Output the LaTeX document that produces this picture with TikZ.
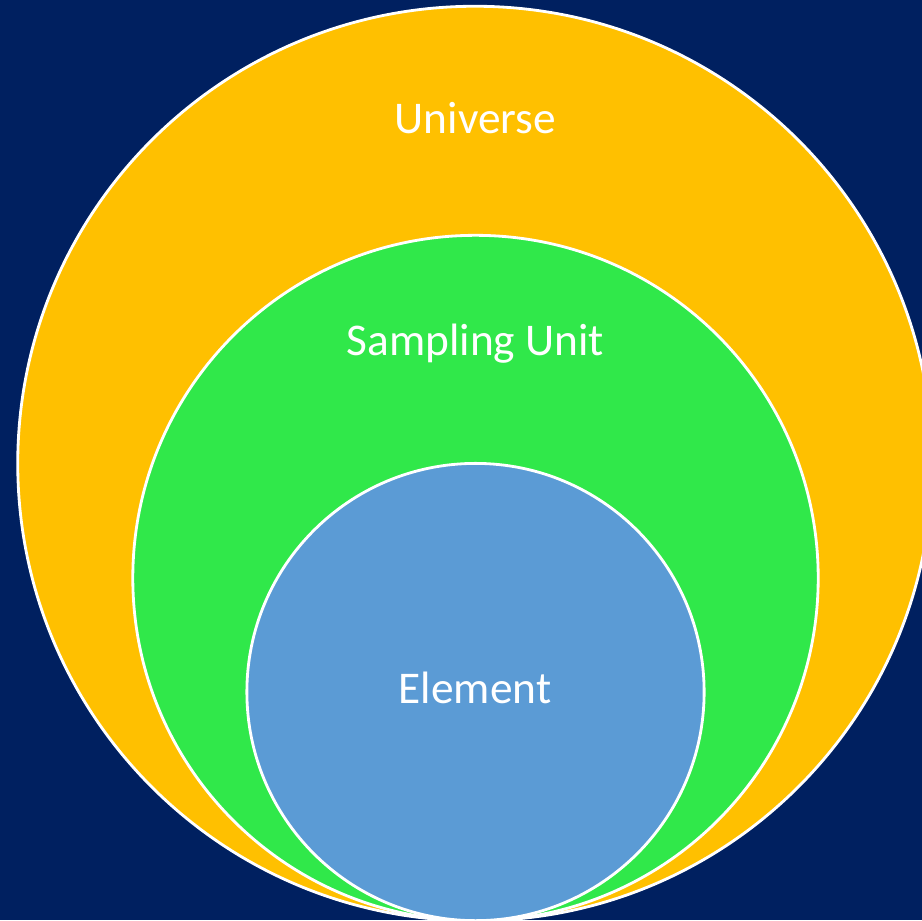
\documentclass[tikz,border=0pt]{standalone}
\usepackage{fontspec}
\setmainfont{Carlito}
\usepackage{tikz}
\definecolor{navy}{HTML}{002060}
\definecolor{gold}{HTML}{FFC000}
\definecolor{lime}{HTML}{30E84A}
\definecolor{steel}{HTML}{5B9BD5}
\tikzset{ring/.style={draw=white,line width=0.8pt},
  caption/.style={anchor=base,text=white,font=\fontsize{12.9}{15}\selectfont}}

\begin{document}
\begin{tikzpicture}[line cap=round,line join=round,x=0.01cm,y=-0.01cm]
  \clip(0,0) rectangle (922,920);
\fill [navy] (0,0) rectangle (922,920);
\filldraw [ring,fill=gold] (475,463.5) circle (4.57cm);
\filldraw [ring,fill=lime] (475.5,578) circle (3.425cm);
\filldraw [ring,fill=steel] (475.5,692) circle (2.285cm);
\node[caption] (universe) at (475.5,133) {Universe};
\node[caption] (unit) at (475.5,355) {Sampling Unit};
\node[caption] (element) at (475,703) {Element};
\end{tikzpicture}
\end{document}
